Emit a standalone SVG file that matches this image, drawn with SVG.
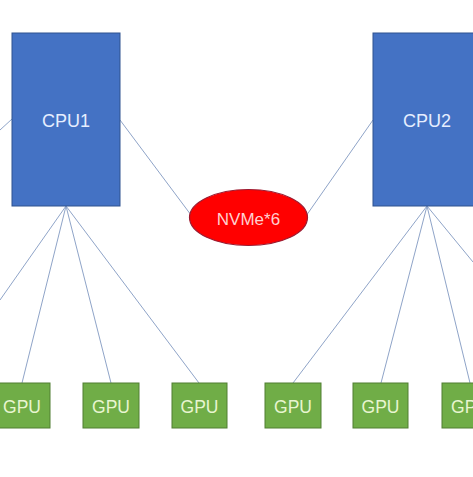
<svg xmlns="http://www.w3.org/2000/svg" width="473" height="477" viewBox="0 0 473 477">
<style>
.cpu{fill:#4472c4;stroke:#2f528f;stroke-width:1}
.gpu{fill:#70ad47;stroke:#507e32;stroke-width:1}
.nv{fill:#ff0000;stroke:#9c1a30;stroke-width:1.2}
.ln{stroke:#8fa4c8;stroke-width:1;fill:none}
text{font-family:"Liberation Sans",Arial,sans-serif;text-anchor:middle}
.tc{fill:#e6eeff;font-size:18px}
.tg{fill:#e8f5d0;font-size:17.5px}
.tn{fill:#ffd0d0;font-size:17px}
</style>
<rect width="473" height="477" fill="#ffffff"/>
<g id="connectors">
<line class="ln" x1="12" y1="119" x2="0" y2="130"/>
<line class="ln" x1="120" y1="120" x2="191" y2="215"/>
<line class="ln" x1="373" y1="120" x2="306" y2="216"/>
<line class="ln" x1="66" y1="206" x2="0" y2="300"/>
<line class="ln" x1="66" y1="206" x2="22" y2="383"/>
<line class="ln" x1="66" y1="206" x2="111" y2="383"/>
<line class="ln" x1="66" y1="206" x2="199" y2="383"/>
<line class="ln" x1="427" y1="206" x2="293" y2="383"/>
<line class="ln" x1="427" y1="206" x2="381" y2="383"/>
<line class="ln" x1="427" y1="206" x2="470" y2="383"/>
<line class="ln" x1="427" y1="206" x2="473" y2="262"/>
</g>
<g id="cpu1"><rect class="cpu" x="12" y="33" width="108" height="173"/><text class="tc" x="66" y="127">CPU1</text></g>
<g id="cpu2"><rect class="cpu" x="373" y="33" width="108" height="173"/><text class="tc" x="427" y="127">CPU2</text></g>
<g id="nvme"><ellipse class="nv" cx="248.5" cy="217.5" rx="59" ry="28"/><text class="tn" x="248.5" y="225">NVMe*6</text></g>
<g id="gpu1"><rect class="gpu" x="-6" y="383" width="56" height="45"/><text class="tg" x="22" y="413">GPU</text></g>
<g id="gpu2"><rect class="gpu" x="83" y="383" width="56" height="45"/><text class="tg" x="111" y="413">GPU</text></g>
<g id="gpu3"><rect class="gpu" x="172" y="383" width="55" height="45"/><text class="tg" x="199.5" y="413">GPU</text></g>
<g id="gpu4"><rect class="gpu" x="265" y="383" width="56" height="45"/><text class="tg" x="293" y="413">GPU</text></g>
<g id="gpu5"><rect class="gpu" x="353" y="383" width="55" height="45"/><text class="tg" x="380.5" y="413">GPU</text></g>
<g id="gpu6"><rect class="gpu" x="442" y="383" width="56" height="45"/><text class="tg" x="470" y="413">GPU</text></g>
</svg>
